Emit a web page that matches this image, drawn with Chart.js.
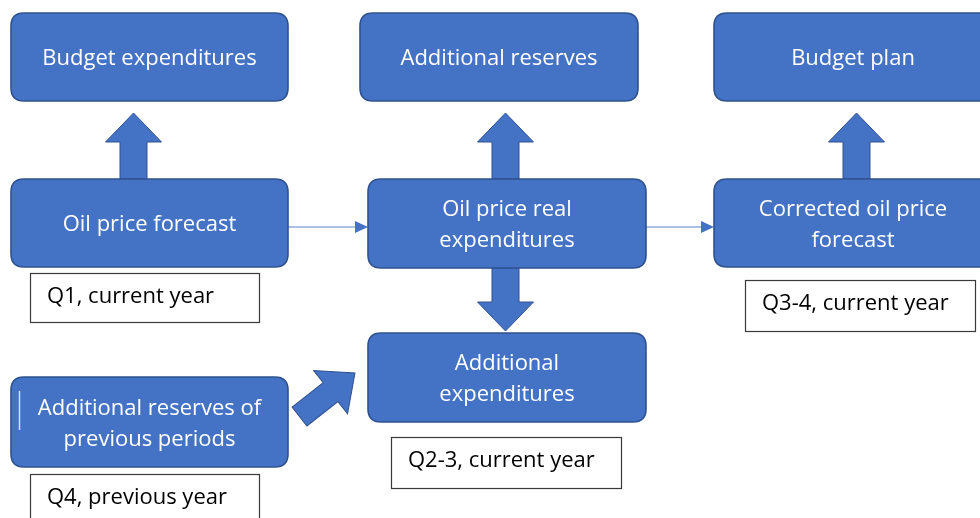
<!DOCTYPE html>
<html><head><meta charset="utf-8">
<script src="https://cdn.jsdelivr.net/npm/chart.js@4/dist/chart.umd.min.js"></script>
<style>html,body{margin:0;padding:0;background:#fff;}canvas{display:block;}</style>
</head><body>
<canvas id="c" width="980" height="518"></canvas>
<script>
// Flowchart nodes (blue rounded boxes)
const nodeText = [['Budget expenditures'], ['Additional reserves'], ['Budget plan'],
  ['Oil price forecast'], ['Oil price real', 'expenditures'], ['Corrected oil price', 'forecast'],
  ['Additional', 'expenditures'], ['Additional reserves of', 'previous periods']];
const nodeLeft = [11, 360, 714, 11, 368, 714, 368, 11];
const nodeRight = [288, 638, 992, 288, 646, 992, 646, 288];
const nodeTop = [13, 13, 13, 179, 179, 179, 333, 377];
const nodeBottom = [101, 101, 101, 267, 268, 267, 422, 467];

// Period notes (white boxes)
const noteText = ['Q1, current year', 'Q2-3, current year', 'Q3-4, current year', 'Q4, previous year'];
const noteLeft = [30, 391, 745, 30];
const noteRight = [260, 622, 976, 260];
const noteTop = [273, 437, 280, 474];
const noteBottom = [323, 489, 332, 530];

// Block arrows (tail -> tip)
const blockFromX = [133.5, 505.5, 856.5, 505.5, 299.5];
const blockFromY = [179, 179, 179, 268, 416.5];
const blockToX = [133.5, 505.5, 856.5, 505.5, 355];
const blockToY = [113, 113, 113, 331, 373];

// Thin connectors
const lineFromX = [288, 646];
const lineToX = [368, 714];
const lineY = [227, 227];

const FILL = '#4472C4', EDGE = '#2F528F';
const FONT = '22px "Open Sans"';

function rr(ctx, x0, y0, x1, y1, r) {
  ctx.beginPath();
  ctx.moveTo(x0 + r, y0);
  ctx.lineTo(x1 - r, y0); ctx.quadraticCurveTo(x1, y0, x1, y0 + r);
  ctx.lineTo(x1, y1 - r); ctx.quadraticCurveTo(x1, y1, x1 - r, y1);
  ctx.lineTo(x0 + r, y1); ctx.quadraticCurveTo(x0, y1, x0, y1 - r);
  ctx.lineTo(x0, y0 + r); ctx.quadraticCurveTo(x0, y0, x0 + r, y0);
  ctx.closePath();
}

const flowPlugin = {
  id: 'flow',
  afterDatasetsDraw(chart) {
    const ctx = chart.ctx, xs = chart.scales.x, ys = chart.scales.y;
    const X = v => xs.getPixelForValue(v), Y = v => ys.getPixelForValue(v);
    ctx.save();
    // block arrows
    for (let i = 0; i < blockFromX.length; i++) {
      const ax = X(blockFromX[i]), ay = Y(blockFromY[i]), bx = X(blockToX[i]), by = Y(blockToY[i]);
      const len = Math.hypot(bx - ax, by - ay), ang = Math.atan2(by - ay, bx - ax);
      const diag = Math.abs(bx - ax) > 1;
      const sw = diag ? 12 : 13.5, hw = diag ? 27.5 : 28, hl = diag ? 31 : 29;
      ctx.save();
      ctx.translate(ax, ay); ctx.rotate(ang);
      ctx.beginPath();
      ctx.moveTo(0, -sw); ctx.lineTo(len - hl, -sw); ctx.lineTo(len - hl, -hw);
      ctx.lineTo(len, 0); ctx.lineTo(len - hl, hw); ctx.lineTo(len - hl, sw); ctx.lineTo(0, sw);
      ctx.closePath();
      ctx.fillStyle = FILL; ctx.fill();
      ctx.strokeStyle = EDGE; ctx.lineWidth = 1; ctx.stroke();
      ctx.restore();
    }
    // thin connectors
    for (let i = 0; i < lineFromX.length; i++) {
      const ax = X(lineFromX[i]), bx = X(lineToX[i]), y = Y(lineY[i]);
      ctx.strokeStyle = '#5A82C8'; ctx.lineWidth = 1.2;
      ctx.beginPath(); ctx.moveTo(ax, y); ctx.lineTo(bx - 12, y); ctx.stroke();
      ctx.fillStyle = '#4472C4';
      ctx.beginPath(); ctx.moveTo(bx, y); ctx.lineTo(bx - 13, y - 6); ctx.lineTo(bx - 13, y + 6); ctx.closePath(); ctx.fill();
    }
    // nodes
    for (let i = 0; i < nodeText.length; i++) {
      const x0 = X(nodeLeft[i]), x1 = X(nodeRight[i]), y0 = Y(nodeTop[i]), y1 = Y(nodeBottom[i]);
      rr(ctx, x0, y0, x1, y1, 13);
      ctx.fillStyle = FILL; ctx.fill();
      ctx.strokeStyle = EDGE; ctx.lineWidth = 1.6; ctx.stroke();
      ctx.fillStyle = '#FFFFFF';
      ctx.font = FONT;
      ctx.textAlign = 'center'; ctx.textBaseline = 'middle';
      const lines = nodeText[i], lh = 31, cx = (x0 + x1) / 2, cy = (y0 + y1) / 2 + 2;
      lines.forEach((t, k) => ctx.fillText(t, cx, cy + (k - (lines.length - 1) / 2) * lh));
    }
    // small cursor mark inside last node
    ctx.strokeStyle = '#D6E0F2'; ctx.lineWidth = 1.5;
    ctx.beginPath(); ctx.moveTo(X(19.5), Y(391)); ctx.lineTo(X(19.5), Y(430)); ctx.stroke();
    // notes
    for (let i = 0; i < noteText.length; i++) {
      const x0 = X(noteLeft[i]), x1 = X(noteRight[i]), y0 = Y(noteTop[i]), y1 = Y(noteBottom[i]);
      ctx.fillStyle = '#FFFFFF'; ctx.fillRect(x0, y0, x1 - x0, y1 - y0);
      ctx.strokeStyle = '#3A3A3A'; ctx.lineWidth = 1.2; ctx.strokeRect(x0 + 0.5, y0 + 0.5, x1 - x0 - 1, y1 - y0 - 1);
      ctx.fillStyle = '#000000'; ctx.font = FONT;
      ctx.textAlign = 'left'; ctx.textBaseline = 'middle';
      ctx.fillText(noteText[i], x0 + 17, Y(noteTop[i] + 24));
    }
    ctx.restore();
  }
};

function draw() {
  new Chart(document.getElementById('c'), {
    type: 'scatter',
    data: { datasets: [{
      data: nodeText.map((t, i) => ({ x: (nodeLeft[i] + nodeRight[i]) / 2, y: (nodeTop[i] + nodeBottom[i]) / 2 })),
      pointRadius: 0
    }] },
    options: {
      responsive: false, animation: false,
      layout: { padding: 0 },
      plugins: { legend: { display: false }, tooltip: { enabled: false } },
      scales: {
        x: { type: 'linear', min: 0, max: 980, display: false },
        y: { type: 'linear', min: 0, max: 518, reverse: true, display: false }
      }
    },
    plugins: [flowPlugin]
  });
}
if (document.fonts && document.fonts.load) {
  document.fonts.load(FONT).then(draw, draw);
} else { draw(); }
</script>
</body></html>
